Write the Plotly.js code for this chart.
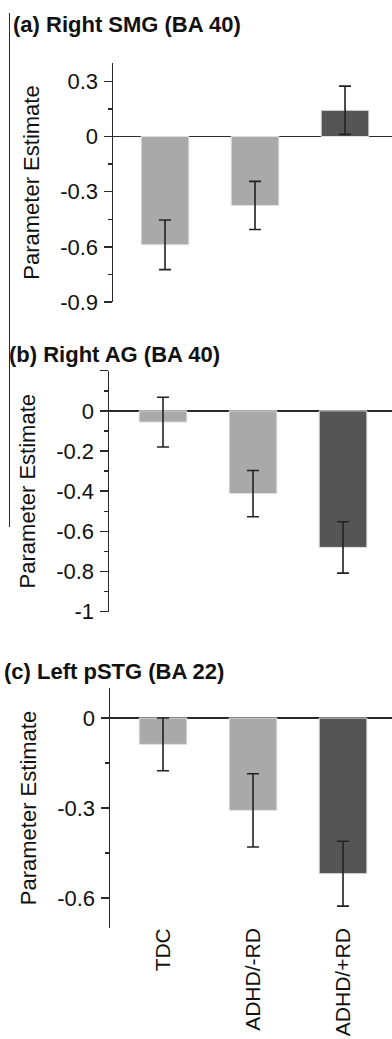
<!DOCTYPE html>
<html>
<head>
<meta charset="utf-8">
<script src="https://cdn.plot.ly/plotly-3.0.1.min.js"></script>
<style>
  html, body { margin: 0; padding: 0; background: #fff; }
  #chart { width: 392px; height: 1039px; }
</style>
</head>
<body>
<div id="chart"></div>
<script>
// ---- data ----
const categories = ['TDC', 'ADHD/-RD', 'ADHD/+RD'];

const smgValues  = [-0.589, -0.375, 0.143];
const smgErrors  = [0.135, 0.131, 0.131];

const agValues   = [-0.056, -0.412, -0.680];
const agErrors   = [0.124, 0.115, 0.128];

const pstgValues = [-0.088, -0.308, -0.519];
const pstgErrors = [0.088, 0.122, 0.108];

const panelTitles = ['(a) Right SMG (BA 40)', '(b) Right AG (BA 40)', '(c) Left pSTG (BA 22)'];
const yTitle = 'Parameter Estimate';

const smgTicks  = [0.3, 0, -0.3, -0.6, -0.9];
const smgMinor  = [0.15, -0.15, -0.45, -0.75];
const agTicks   = [0.2, 0, -0.2, -0.4, -0.6, -0.8, -1];
const agTickText = ['', '0', '-0.2', '-0.4', '-0.6', '-0.8', '-1'];
const agMinor   = [0.1, -0.1, -0.3, -0.5, -0.7, -0.9];
const pstgTicks = [0, -0.3, -0.6];
const pstgMinor = [-0.15, -0.45];

// ---- styling ----
const LIGHT = '#a9a9a9';
const DARK = '#555555';
const barColors = [LIGHT, LIGHT, DARK];
const FONT = 'Liberation Sans, Arial, Helvetica, sans-serif';
const INK = '#2a2a2a';
const W = 392, H = 1039;

function barTrace(vals, errs, xa, ya) {
  return {
    type: 'bar',
    x: categories,
    y: vals,
    xaxis: xa,
    yaxis: ya,
    width: 0.53,
    marker: { color: barColors, line: { color: '#e2e2e2', width: 1 } },
    error_y: { type: 'data', array: errs, visible: true, color: '#222', thickness: 1.6, width: 6 },
    hoverinfo: 'x+y',
    showlegend: false
  };
}

const data = [
  barTrace(smgValues, smgErrors, 'x', 'y'),
  barTrace(agValues, agErrors, 'x2', 'y2'),
  barTrace(pstgValues, pstgErrors, 'x3', 'y3')
];

function py(px) { return 1 - px / H; }
function pxx(px) { return px / W; }

function yAxis(domTop, domBot, range, tickvals, ticktext, minorVals, xa) {
  return {
    domain: [py(domBot), py(domTop)],
    anchor: xa,
    range: range,
    tickmode: 'array',
    tickvals: tickvals,
    ticktext: ticktext,
    ticks: 'outside',
    ticklen: 8,
    tickwidth: 1.5,
    tickcolor: INK,
    ticklabelstandoff: 1,
    minor: { tickvals: minorVals, ticks: 'outside', ticklen: 4, tickwidth: 1.5, tickcolor: INK, showgrid: false },
    showline: true,
    linecolor: INK,
    linewidth: 1.5,
    showgrid: false,
    zeroline: true,
    zerolinecolor: INK,
    zerolinewidth: 1.5,
    tickfont: { family: FONT, size: 22, color: '#111' },
    title: { text: yTitle, font: { family: FONT, size: 22, color: '#111' }, standoff: 14 },
    fixedrange: true
  };
}

function xAxis(left, range, ya, showLabels) {
  return {
    domain: [pxx(left), 1],
    anchor: ya,
    type: 'category',
    range: range,
    showline: false,
    showgrid: false,
    zeroline: false,
    ticks: '',
    showticklabels: showLabels,
    tickangle: -90,
    ticklabelstandoff: -5,
    tickfont: { family: FONT, size: 21, color: '#111' },
    fixedrange: true
  };
}

const layout = {
  width: W,
  height: H,
  margin: { l: 0, r: 0, t: 0, b: 0 },
  paper_bgcolor: '#fff',
  plot_bgcolor: '#fff',
  bargap: 0.4,
  font: { family: FONT, size: 22, color: '#111' },
  xaxis:  xAxis(113, [-0.578, 2.522], 'y', false),
  yaxis:  yAxis(63, 302, [-0.9, 0.4], smgTicks, smgTicks.map(String), smgMinor, 'x'),
  xaxis2: xAxis(109, [-0.6, 2.544], 'y2', false),
  yaxis2: yAxis(370.7, 611.7, [-1, 0.2], agTicks, agTickText, agMinor, 'x2'),
  xaxis3: xAxis(110, [-0.589, 2.544], 'y3', true),
  yaxis3: yAxis(688, 928, [-0.7, 0.1], pstgTicks, pstgTicks.map(String), pstgMinor, 'x3'),
  annotations: [
    { text: '<b>' + panelTitles[0] + '</b>', xref: 'paper', yref: 'paper', x: pxx(11), y: py(24), xanchor: 'left', yanchor: 'middle', showarrow: false, font: { family: FONT, size: 22, color: '#111' } },
    { text: '<b>' + panelTitles[1] + '</b>', xref: 'paper', yref: 'paper', x: pxx(7), y: py(354), xanchor: 'left', yanchor: 'middle', showarrow: false, font: { family: FONT, size: 22, color: '#111' } },
    { text: '<b>' + panelTitles[2] + '</b>', xref: 'paper', yref: 'paper', x: pxx(2), y: py(671), xanchor: 'left', yanchor: 'middle', showarrow: false, font: { family: FONT, size: 22, color: '#111' } }
  ],
  shapes: [
    { type: 'line', xref: 'paper', yref: 'paper', x0: pxx(9.5), x1: pxx(9.5), y0: py(13), y1: py(527), line: { color: INK, width: 1 } }
  ]
};

Plotly.newPlot('chart', data, layout, { displayModeBar: false, staticPlot: true });
</script>
</body>
</html>
